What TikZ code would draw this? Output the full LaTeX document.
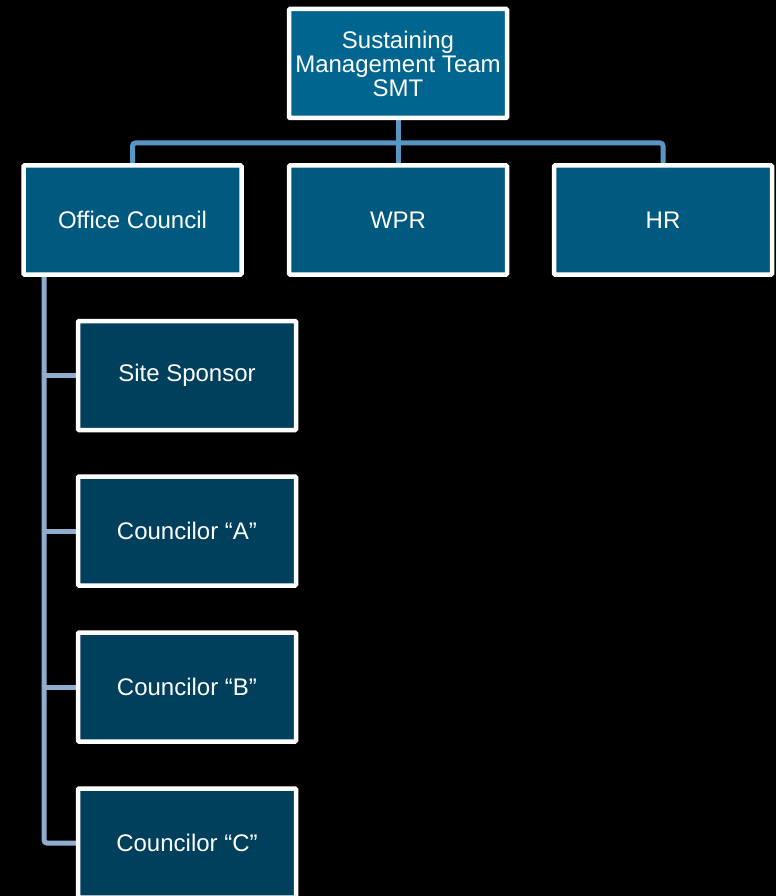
\documentclass[tikz,border=0pt]{standalone}
\usepackage{fontspec}
\setmainfont{Liberation Sans}
\usetikzlibrary{backgrounds}
\definecolor{topfill}{RGB}{0,102,144}
\definecolor{midfill}{RGB}{0,90,128}
\definecolor{lowfill}{RGB}{0,64,92}
\definecolor{connA}{RGB}{88,150,196}
\definecolor{connB}{RGB}{143,174,206}
\tikzset{
  orgbox/.style={draw=white, line width=4.5pt, minimum width=218pt, minimum height=109pt,
    inner sep=0pt, align=center, text=white, font=\fontsize{24}{24}\selectfont, rounded corners=1pt},
  conn/.style={line width=5pt, rounded corners=3pt},
}
\begin{document}
\begin{tikzpicture}[x=1pt,y=-1pt]
\useasboundingbox (0,0) rectangle (776,896);
\node[orgbox, fill=topfill] (smt) at (398,63.5) {Sustaining\\Management Team\\SMT};
\node[orgbox, fill=midfill] (office) at (132.5,220) {Office Council};
\node[orgbox, fill=midfill] (wpr) at (398,220) {WPR};
\node[orgbox, fill=midfill] (hr) at (663,220) {HR};
\node[orgbox, fill=lowfill] (site) at (187,375.5) {Site Sponsor};
\node[orgbox, fill=lowfill] (ca) at (187,531) {Councilor “A”};
\node[orgbox, fill=lowfill] (cb) at (187,687) {Councilor “B”};
\node[orgbox, fill=lowfill] (cc) at (187,843) {Councilor “C”};
\coordinate (busL) at (office.north |- 0,143);
\coordinate (busR) at (hr.north |- 0,143);
\coordinate (vtop) at (44,270);
\begin{scope}[on background layer]
\fill[black] (0,0) rectangle (776,896);
\draw[conn, connA] (smt.south) -- (wpr.north);
\draw[conn, connA] (office.north) -- (busL) -- (busR) -- (hr.north);
\draw[conn, connB] (vtop) -- (vtop |- cc.west) -- (cc.west);
\draw[conn, connB] (vtop |- site.west) -- (site.west);
\draw[conn, connB] (vtop |- ca.west) -- (ca.west);
\draw[conn, connB] (vtop |- cb.west) -- (cb.west);
\end{scope}
\end{tikzpicture}
\end{document}
